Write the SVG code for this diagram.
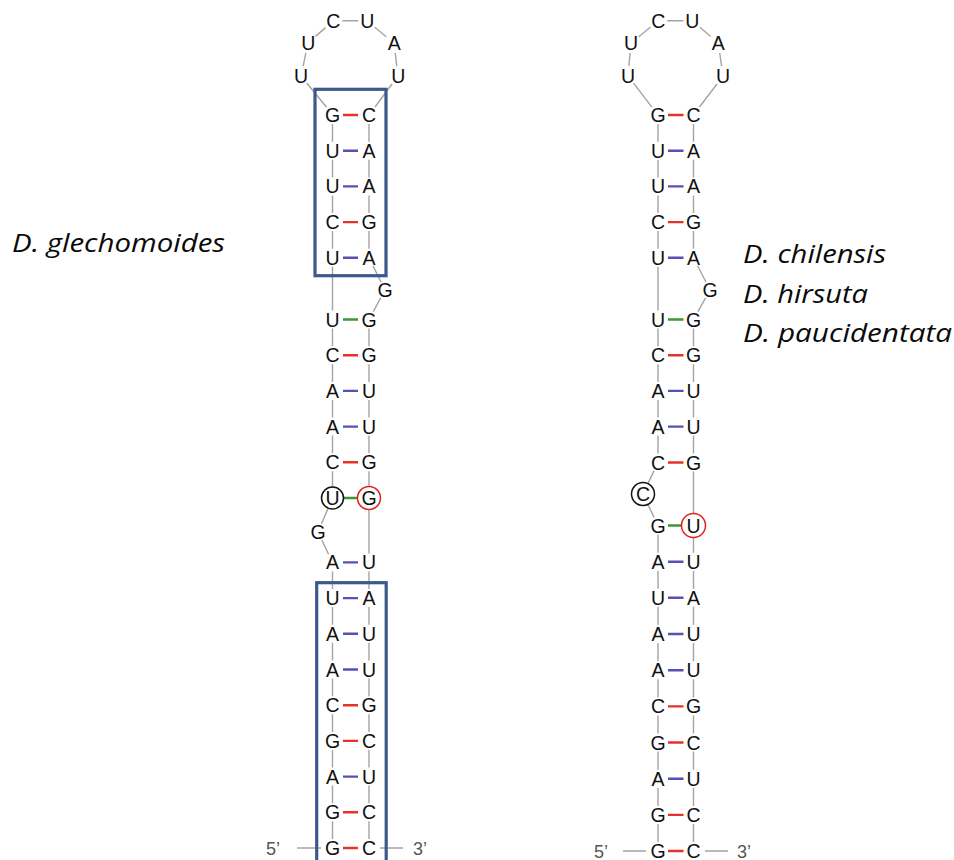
<svg xmlns="http://www.w3.org/2000/svg" width="954" height="860" viewBox="0 0 954 860">
  <style>
    .nt { font-family: "Liberation Sans", Arial, Helvetica, sans-serif; font-size: 19.5px; text-anchor: middle; fill: #111; }
    .end { font-family: "Liberation Sans", Arial, Helvetica, sans-serif; font-size: 18px; text-anchor: middle; fill: #555; }
    .sp { font-family: "Open Sans", "Noto Sans", "Liberation Sans", sans-serif; font-style: italic; font-size: 25px; fill: #0a0a0a; }
    .bb { stroke: #a4a4a4; stroke-width: 1.4; fill: none; }
    .gc { stroke: #e5322b; stroke-width: 2.4; }
    .au { stroke: #5a4fb4; stroke-width: 2.4; }
    .gu { stroke: #3b983b; stroke-width: 2.4; }
    .box { fill: none; stroke: #3a5a8c; stroke-width: 3.2; }
    .mk-k { fill: none; stroke: #111; stroke-width: 1.5; }
    .mk-r { fill: none; stroke: #e5211b; stroke-width: 1.5; }
  </style>

  <rect width="954" height="860" fill="#fff"/>

  <!-- species labels -->
  <g id="labels">
    <text class="sp" x="12" y="252" textLength="213" lengthAdjust="spacingAndGlyphs">D. glechomoides</text>
    <text class="sp" x="743" y="263" textLength="143" lengthAdjust="spacingAndGlyphs">D. chilensis</text>
    <text class="sp" x="743" y="302.5" textLength="125" lengthAdjust="spacingAndGlyphs">D. hirsuta</text>
    <text class="sp" x="743" y="341.5" textLength="209" lengthAdjust="spacingAndGlyphs">D. paucidentata</text>
  </g>

  <!-- connectors: backbone and base-pair bonds -->
  <g id="connectors">
    <!-- structure A backbone -->
    <path class="bb" d="M326.6 107.3L306.7 83 M303.1 66.2L305.9 52.8 M315.5 36.4L325.5 27.6 M342.3 20.7H358.3 M374.8 27.3L386.2 36.7 M395.2 52.9L396.8 66.1 M392 84L375 107"/>
    <path class="bb" d="M332.5 124V141.7 M332.5 159.7V177.4 M332.5 195.4V213.1 M332.5 231.1V248.8 M332.5 266.8V310.5 M332.5 328.5V346.2 M332.5 364.2V381.9 M332.5 399.9V417.6 M332.5 435.6V453.3 M332.5 471.3V487 M328 508.6L321.5 523.7 M321.9 540.1L328.6 554.3 M332.5 571.4V589.1 M332.5 607.1V624.8 M332.5 642.8V660.5 M332.5 678.5V696.2 M332.5 714.2V731.9 M332.5 749.9V767.6 M332.5 785.6V803.3 M332.5 821.3V839"/>
    <path class="bb" d="M369 124V141.7 M369 159.7V177.4 M369 195.4V213.1 M369 231.1V248.8 M373 265.9L381 282 M380.7 297.9L373.3 311.6 M369 328.5V346.2 M369 364.2V381.9 M369 399.9V417.6 M369 435.6V453.3 M369 471.3V486.5 M369 509.5V553.4 M369 571.4V589.1 M369 607.1V624.8 M369 642.8V660.5 M369 678.5V696.2 M369 714.2V731.9 M369 749.9V767.6 M369 785.6V803.3 M369 821.3V839"/>
    <path class="bb" d="M297 848H321 M380 848H403"/>
    <!-- structure A bonds -->
    <path class="gc" d="M343 115H358 M343 222.1H358 M343 355.2H358 M343 462.3H358 M343 705.2H358 M343 740.9H358 M343 812.3H358 M343 848H358"/>
    <path class="au" d="M343 150.7H358 M343 186.4H358 M343 257.8H358 M343 390.9H358 M343 426.6H358 M343 562.4H358 M343 598.1H358 M343 633.8H358 M343 669.5H358 M343 776.6H358"/>
    <path class="gu" d="M343 319.5H358 M343.5 498H357.5"/>

    <!-- structure B backbone -->
    <path class="bb" d="M651.9 107.1L633.5 83.1 M628.9 66L630.1 53 M638.8 36.7L650.5 27 M667.3 20.7H683.3 M699.9 27.2L710.7 36.5 M719.7 52.9L721.6 66.1 M717 84L699.5 107"/>
    <path class="bb" d="M658 124V141.7 M658 159.7V177.4 M658 195.4V213.1 M658 231.1V248.8 M658 266.8V310.5 M658 328.5V346.2 M658 364.2V381.9 M658 399.9V417.6 M658 435.6V453.5 M654.1 470.6L647.9 483.6 M647.9 504.4L654.1 517.4 M658 534.5V552.7 M658 570.7V588.8 M658 606.8V625 M658 643V661.2 M658 679.2V697.4 M658 715.4V733.5 M658 751.5V769.7 M658 787.7V805.9 M658 823.9V842"/>
    <path class="bb" d="M693.5 124V141.7 M693.5 159.7V177.4 M693.5 195.4V213.1 M693.5 231.1V248.8 M697.6 265.8L705.9 282 M705.6 297.9L697.9 311.6 M693.5 328.5V346.2 M693.5 364.2V381.9 M693.5 399.9V417.6 M693.5 435.6V453.5 M693.5 471.5V513.5 M693.5 537.5V552.7 M693.5 570.7V588.8 M693.5 606.8V625 M693.5 643V661.2 M693.5 679.2V697.4 M693.5 715.4V733.5 M693.5 751.5V769.7 M693.5 787.7V805.9 M693.5 823.9V842"/>
    <path class="bb" d="M623 851H646 M705 851H728"/>
    <!-- structure B bonds -->
    <path class="gc" d="M668 115H683.5 M668 222.1H683.5 M668 355.2H683.5 M668 462.5H683.5 M668 706.4H683.5 M668 742.5H683.5 M668 814.9H683.5 M668 851H683.5"/>
    <path class="au" d="M668 150.7H683.5 M668 186.4H683.5 M668 257.8H683.5 M668 390.9H683.5 M668 426.6H683.5 M668 561.7H683.5 M668 597.8H683.5 M668 634H683.5 M668 670.2H683.5 M668 778.7H683.5"/>
    <path class="gu" d="M668 319.5H683.5 M668 525.5H681.5"/>
  </g>

  <!-- highlighted stem regions -->
  <g id="boxes">
    <rect class="box" x="315" y="89.3" width="71" height="186.4"/>
    <rect class="box" x="316.7" y="582.7" width="69.5" height="300"/>
  </g>

  <!-- structure A: nucleotides -->
  <g id="structA">
    <g id="a-l1"><text class="nt" x="301" y="83">U</text></g>
    <g id="a-l2"><text class="nt" x="308.3" y="50">U</text></g>
    <g id="a-l3"><text class="nt" x="333.3" y="27.7">C</text></g>
    <g id="a-l4"><text class="nt" x="367.3" y="27.7">U</text></g>
    <g id="a-l5"><text class="nt" x="394.3" y="50">A</text></g>
    <g id="a-l6"><text class="nt" x="398.3" y="83">U</text></g>
    <g id="a-r0-5"><text class="nt" x="332.5" y="122">G</text></g>
    <g id="a-r0-3"><text class="nt" x="369" y="122">C</text></g>
    <g id="a-r1-5"><text class="nt" x="332.5" y="157.7">U</text></g>
    <g id="a-r1-3"><text class="nt" x="369" y="157.7">A</text></g>
    <g id="a-r2-5"><text class="nt" x="332.5" y="193.4">U</text></g>
    <g id="a-r2-3"><text class="nt" x="369" y="193.4">A</text></g>
    <g id="a-r3-5"><text class="nt" x="332.5" y="229.1">C</text></g>
    <g id="a-r3-3"><text class="nt" x="369" y="229.1">G</text></g>
    <g id="a-r4-5"><text class="nt" x="332.5" y="264.8">U</text></g>
    <g id="a-r4-3"><text class="nt" x="369" y="264.8">A</text></g>
    <g id="a-b1"><text class="nt" x="385" y="297">G</text></g>
    <g id="a-r5-5"><text class="nt" x="332.5" y="326.5">U</text></g>
    <g id="a-r5-3"><text class="nt" x="369" y="326.5">G</text></g>
    <g id="a-r6-5"><text class="nt" x="332.5" y="362.2">C</text></g>
    <g id="a-r6-3"><text class="nt" x="369" y="362.2">G</text></g>
    <g id="a-r7-5"><text class="nt" x="332.5" y="397.9">A</text></g>
    <g id="a-r7-3"><text class="nt" x="369" y="397.9">U</text></g>
    <g id="a-r8-5"><text class="nt" x="332.5" y="433.6">A</text></g>
    <g id="a-r8-3"><text class="nt" x="369" y="433.6">U</text></g>
    <g id="a-r9-5"><text class="nt" x="332.5" y="469.3">C</text></g>
    <g id="a-r9-3"><text class="nt" x="369" y="469.3">G</text></g>
    <g id="a-r10-5"><circle class="mk-k" cx="332.5" cy="498" r="11"/><text class="nt" x="332.5" y="505">U</text></g>
    <g id="a-r10-3"><circle class="mk-r" cx="369" cy="498" r="11.5"/><text class="nt" x="369" y="505">G</text></g>
    <g id="a-b2"><text class="nt" x="318" y="539">G</text></g>
    <g id="a-r11-5"><text class="nt" x="332.5" y="569.4">A</text></g>
    <g id="a-r11-3"><text class="nt" x="369" y="569.4">U</text></g>
    <g id="a-r12-5"><text class="nt" x="332.5" y="605.1">U</text></g>
    <g id="a-r12-3"><text class="nt" x="369" y="605.1">A</text></g>
    <g id="a-r13-5"><text class="nt" x="332.5" y="640.8">A</text></g>
    <g id="a-r13-3"><text class="nt" x="369" y="640.8">U</text></g>
    <g id="a-r14-5"><text class="nt" x="332.5" y="676.5">A</text></g>
    <g id="a-r14-3"><text class="nt" x="369" y="676.5">U</text></g>
    <g id="a-r15-5"><text class="nt" x="332.5" y="712.2">C</text></g>
    <g id="a-r15-3"><text class="nt" x="369" y="712.2">G</text></g>
    <g id="a-r16-5"><text class="nt" x="332.5" y="747.9">G</text></g>
    <g id="a-r16-3"><text class="nt" x="369" y="747.9">C</text></g>
    <g id="a-r17-5"><text class="nt" x="332.5" y="783.6">A</text></g>
    <g id="a-r17-3"><text class="nt" x="369" y="783.6">U</text></g>
    <g id="a-r18-5"><text class="nt" x="332.5" y="819.3">G</text></g>
    <g id="a-r18-3"><text class="nt" x="369" y="819.3">C</text></g>
    <g id="a-r19-5"><text class="nt" x="332.5" y="855">G</text></g>
    <g id="a-r19-3"><text class="nt" x="369" y="855">C</text></g>
    <g id="a-end5"><text class="end" x="273" y="854.5">5’</text></g>
    <g id="a-end3"><text class="end" x="420" y="854.5">3’</text></g>
  </g>

  <!-- structure B: nucleotides -->
  <g id="structB">
    <g id="b-l1"><text class="nt" x="628" y="83">U</text></g>
    <g id="b-l2"><text class="nt" x="631" y="50">U</text></g>
    <g id="b-l3"><text class="nt" x="658.3" y="27.7">C</text></g>
    <g id="b-l4"><text class="nt" x="692.3" y="27.7">U</text></g>
    <g id="b-l5"><text class="nt" x="718.3" y="50">A</text></g>
    <g id="b-l6"><text class="nt" x="723" y="83">U</text></g>
    <g id="b-r0-5"><text class="nt" x="658" y="122">G</text></g>
    <g id="b-r0-3"><text class="nt" x="693.5" y="122">C</text></g>
    <g id="b-r1-5"><text class="nt" x="658" y="157.7">U</text></g>
    <g id="b-r1-3"><text class="nt" x="693.5" y="157.7">A</text></g>
    <g id="b-r2-5"><text class="nt" x="658" y="193.4">U</text></g>
    <g id="b-r2-3"><text class="nt" x="693.5" y="193.4">A</text></g>
    <g id="b-r3-5"><text class="nt" x="658" y="229.1">C</text></g>
    <g id="b-r3-3"><text class="nt" x="693.5" y="229.1">G</text></g>
    <g id="b-r4-5"><text class="nt" x="658" y="264.8">U</text></g>
    <g id="b-r4-3"><text class="nt" x="693.5" y="264.8">A</text></g>
    <g id="b-b1"><text class="nt" x="710" y="297">G</text></g>
    <g id="b-r5-5"><text class="nt" x="658" y="326.5">U</text></g>
    <g id="b-r5-3"><text class="nt" x="693.5" y="326.5">G</text></g>
    <g id="b-r6-5"><text class="nt" x="658" y="362.2">C</text></g>
    <g id="b-r6-3"><text class="nt" x="693.5" y="362.2">G</text></g>
    <g id="b-r7-5"><text class="nt" x="658" y="397.9">A</text></g>
    <g id="b-r7-3"><text class="nt" x="693.5" y="397.9">U</text></g>
    <g id="b-r8-5"><text class="nt" x="658" y="433.6">A</text></g>
    <g id="b-r8-3"><text class="nt" x="693.5" y="433.6">U</text></g>
    <g id="b-r9-5"><text class="nt" x="658" y="469.5">C</text></g>
    <g id="b-r9-3"><text class="nt" x="693.5" y="469.5">G</text></g>
    <g id="b-b2"><circle class="mk-k" cx="643" cy="494" r="11.5"/><text class="nt" x="643" y="501">C</text></g>
    <g id="b-r10-5"><text class="nt" x="658" y="532.5">G</text></g>
    <g id="b-r10-3"><circle class="mk-r" cx="693.5" cy="525.5" r="12"/><text class="nt" x="693.5" y="532.5">U</text></g>
    <g id="b-r11-5"><text class="nt" x="658" y="568.7">A</text></g>
    <g id="b-r11-3"><text class="nt" x="693.5" y="568.7">U</text></g>
    <g id="b-r12-5"><text class="nt" x="658" y="604.8">U</text></g>
    <g id="b-r12-3"><text class="nt" x="693.5" y="604.8">A</text></g>
    <g id="b-r13-5"><text class="nt" x="658" y="641">A</text></g>
    <g id="b-r13-3"><text class="nt" x="693.5" y="641">U</text></g>
    <g id="b-r14-5"><text class="nt" x="658" y="677.2">A</text></g>
    <g id="b-r14-3"><text class="nt" x="693.5" y="677.2">U</text></g>
    <g id="b-r15-5"><text class="nt" x="658" y="713.4">C</text></g>
    <g id="b-r15-3"><text class="nt" x="693.5" y="713.4">G</text></g>
    <g id="b-r16-5"><text class="nt" x="658" y="749.5">G</text></g>
    <g id="b-r16-3"><text class="nt" x="693.5" y="749.5">C</text></g>
    <g id="b-r17-5"><text class="nt" x="658" y="785.7">A</text></g>
    <g id="b-r17-3"><text class="nt" x="693.5" y="785.7">U</text></g>
    <g id="b-r18-5"><text class="nt" x="658" y="821.9">G</text></g>
    <g id="b-r18-3"><text class="nt" x="693.5" y="821.9">C</text></g>
    <g id="b-r19-5"><text class="nt" x="658" y="858">G</text></g>
    <g id="b-r19-3"><text class="nt" x="693.5" y="858">C</text></g>
    <g id="b-end5"><text class="end" x="601" y="857.5">5’</text></g>
    <g id="b-end3"><text class="end" x="744" y="857.5">3’</text></g>
  </g>
</svg>
